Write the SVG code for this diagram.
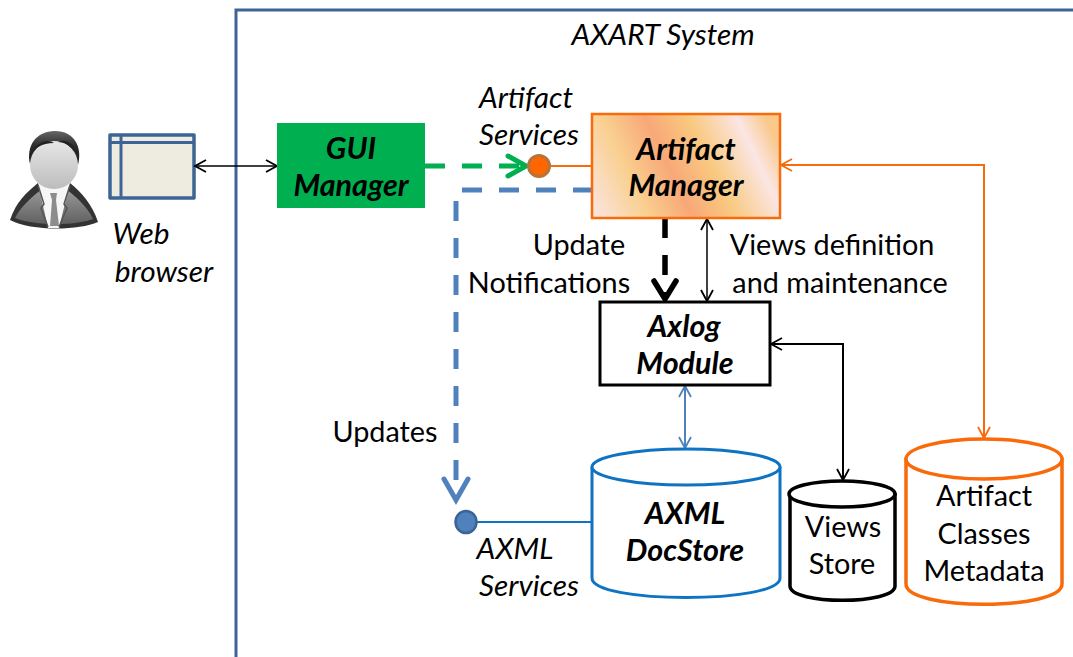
<svg xmlns="http://www.w3.org/2000/svg" width="1073" height="657" viewBox="0 0 1073 657">
<style>
text{font-family:"Lato","Open Sans","Liberation Sans",sans-serif;font-size:28.8px;fill:#000;text-anchor:middle;transform:translateY(1px)}
.i{font-style:italic;font-size:29.800px}
.b{font-style:italic;font-weight:700;font-size:30.500px}
.nf{fill:none}
</style>
<defs>
<linearGradient id="am" gradientUnits="userSpaceOnUse" x1="569" y1="213" x2="767" y2="119">
<stop offset="0" stop-color="#f8d9a8"/><stop offset="0.11" stop-color="#fbe3dc"/><stop offset="0.32" stop-color="#f9d090"/><stop offset="0.5" stop-color="#f8a878"/><stop offset="0.68" stop-color="#f9c980"/><stop offset="0.88" stop-color="#fbe6e4"/><stop offset="1" stop-color="#f9c88a"/>
</linearGradient>
<linearGradient id="face" x1="0" y1="0" x2="0" y2="1"><stop offset="0" stop-color="#e6e6e6"/><stop offset="1" stop-color="#bcbcbc"/></linearGradient>
<linearGradient id="suit" x1="0" y1="0" x2="0" y2="1"><stop offset="0" stop-color="#9a9a9a"/><stop offset="1" stop-color="#606060"/></linearGradient>
<linearGradient id="hair" x1="0" y1="0" x2="0" y2="1"><stop offset="0" stop-color="#666"/><stop offset="0.45" stop-color="#2b2b2b"/><stop offset="1" stop-color="#1d1d1d"/></linearGradient>
<marker id="a" markerWidth="14" markerHeight="14" refX="12" refY="7" orient="auto-start-reverse" markerUnits="userSpaceOnUse"><path d="M1 1 L12 7 L1 13" class="nf" stroke="context-stroke" stroke-width="1.800"/></marker>
</defs>
<path d="M236 657V10H1073" class="nf" stroke="#3c6494" stroke-width="3"/>
<text class="i" x="663" y="44">AXART System</text>
<g id="user">
<path d="M10 220 C16 202 26 193 38 183 L70 183 C82 193 92 204 98 222 C78 231 30 231 10 220Z" fill="#333"/>
<path d="M15 218 C22 205 32 197 42 189 L66 189 C76 197 87 206 93 219 C75 226 34 226 15 218Z" fill="url(#suit)"/>
<path d="M38 183 L70 183 L59 228 L48 228Z" fill="#f6f6f6"/>
<path d="M50 193 L57 193 L56 200 L59 226 L50 226 L52 200Z" fill="#8c8c8c"/>
<path d="M38 185 L44 204 L41 208 L48 227M70 185 L64 204 L67 208 L59 227" class="nf" stroke="#555" stroke-width="1.500"/>
<path d="M30 164 C26 146 36 131 55 131 C74 131 83 147 78 165 C74 152 70 146 62 142 C52 140 36 146 30 164Z" fill="url(#hair)"/>
<ellipse cx="54" cy="165" rx="24" ry="24" fill="url(#face)"/>
<path d="M29 160 C32 148 42 143 54 143 C48 138 34 142 29 160ZM79 160 C76 148 68 143 58 142 C66 138 76 144 79 160Z" fill="#222"/>
</g>
<g id="browser">
<rect x="110" y="135" width="84" height="63" fill="#eeece1" stroke="#3c6494" stroke-width="3.500" stroke-linejoin="round"/>
<path d="M110 142.500H194M121 135V198" class="nf" stroke="#3c6494" stroke-width="3"/>
<text class="i" x="141" y="243">Web</text>
<text class="i" x="164" y="281">browser</text>
</g>
<g id="connectors">
<path d="M195 166H277" class="nf" stroke="#000" stroke-width="1.500" marker-start="url(#a)" marker-end="url(#a)"/>
<path d="M425 166H522" class="nf" stroke="#00b050" stroke-width="5" stroke-dasharray="20 17"/>
<path d="M508 156L526 166L508 176" class="nf" stroke="#00b050" stroke-width="5" stroke-linecap="round"/>
<path d="M551 166H591" class="nf" stroke="#f96a0a" stroke-width="2"/>
<path d="M591 190H456V500" class="nf" stroke="#4f81bd" stroke-width="5" stroke-dasharray="20 17" stroke-dashoffset="2"/>
<path d="M444 479L456 500L468 479" class="nf" stroke="#4f81bd" stroke-width="5" stroke-linecap="round"/>
<path d="M665 218V296" class="nf" stroke="#000" stroke-width="5.500" stroke-dasharray="20 17"/>
<path d="M654 281L665 299L676 281" class="nf" stroke="#000" stroke-width="5.500" stroke-linecap="round"/>
<path d="M707 219V301" class="nf" stroke="#000" stroke-width="1.500" marker-start="url(#a)" marker-end="url(#a)"/>
<path d="M771 344H843V480" class="nf" stroke="#000" stroke-width="2" marker-start="url(#a)" marker-end="url(#a)"/>
<path d="M781 165H984V438" class="nf" stroke="#f96a0a" stroke-width="2" marker-start="url(#a)" marker-end="url(#a)"/>
<path d="M685 386V448" class="nf" stroke="#4f81bd" stroke-width="2" marker-start="url(#a)" marker-end="url(#a)"/>
<path d="M476 522H592" class="nf" stroke="#0e73c2" stroke-width="2"/>
</g>
<g id="gui-manager">
<rect x="277" y="123" width="148" height="85" fill="#00b050"/>
<text class="b" x="351" y="158">GUI</text>
<text class="b" x="351" y="195">Manager</text>
</g>
<g id="artifact-services">
<circle cx="539" cy="166" r="10.500" fill="#ff6600" stroke="#b7733a" stroke-width="3"/>
<text class="i" x="526" y="107">Artifact</text>
<text class="i" x="529" y="144">Services</text>
</g>
<g id="artifact-manager">
<rect x="592" y="114" width="188" height="104" fill="url(#am)" stroke="#f96a0a" stroke-width="2.500"/>
<text class="b" x="686" y="159">Artifact</text>
<text class="b" x="686" y="195">Manager</text>
</g>
<g id="labels">
<text x="579" y="254">Update</text>
<text x="549" y="292">Notifications</text>
<text x="832" y="254">Views definition</text>
<text x="840" y="292">and maintenance</text>
<text x="385" y="441">Updates</text>
</g>
<g id="axlog-module">
<rect x="600" y="302" width="170" height="83" fill="#fff" stroke="#000" stroke-width="3"/>
<text class="b" x="684" y="336">Axlog</text>
<text class="b" x="685" y="373">Module</text>
</g>
<g id="axml-services">
<ellipse cx="466" cy="522" rx="10.500" ry="11" fill="#4f81bd" stroke="#3c6494" stroke-width="2.500"/>
<text class="i" x="515" y="558">AXML</text>
<text class="i" x="529" y="595">Services</text>
</g>
<g id="axml-docstore">
<path d="M592 467V578C592 604 780 604 780 578V467" fill="#fff" stroke="#0e73c2" stroke-width="3"/>
<ellipse cx="686" cy="467" rx="94" ry="18" fill="#fff" stroke="#0e73c2" stroke-width="3"/>
<text class="b" x="685" y="523">AXML</text>
<text class="b" x="685" y="560">DocStore</text>
</g>
<g id="views-store">
<path d="M790 493V586C790 605 895 605 895 586V493" fill="#fff" stroke="#000" stroke-width="3.500"/>
<ellipse cx="842" cy="494" rx="53" ry="13" fill="#fff" stroke="#000" stroke-width="3.500"/>
<text x="843" y="536">Views</text>
<text x="842" y="573">Store</text>
</g>
<g id="artifact-metadata">
<path d="M906 458V584C906 611 1062 611 1062 584V458" fill="#fff" stroke="#f96a0a" stroke-width="3.500"/>
<ellipse cx="984" cy="459" rx="78" ry="20" fill="#fff" stroke="#f96a0a" stroke-width="3.500"/>
<text x="984" y="505">Artifact</text>
<text x="984" y="543">Classes</text>
<text x="984" y="580">Metadata</text>
</g>
</svg>
